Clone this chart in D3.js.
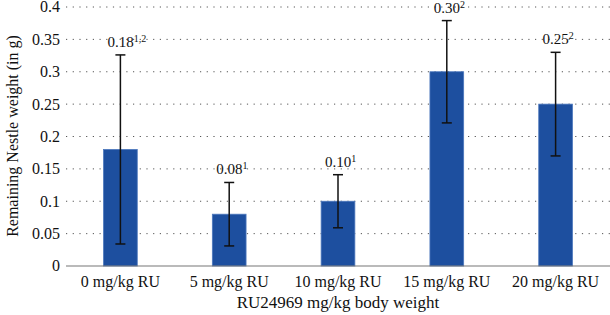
<!DOCTYPE html>
<html>
<head>
<meta charset="utf-8">
<script src="https://cdn.jsdelivr.net/npm/d3@7"></script>
</head>
<body style="margin:0">
<script>
var categories = ['0 mg/kg RU', '5 mg/kg RU', '10 mg/kg RU', '15 mg/kg RU', '20 mg/kg RU'];
var means = [0.18, 0.08, 0.10, 0.30, 0.25];
var errors = [0.146, 0.049, 0.041, 0.079, 0.08];
var valueLabels = ['0.18', '0.08', '0.10', '0.30', '0.25'];
var superscripts = ['1,2', '1', '1', '2', '2'];
var yTicks = [0, 0.05, 0.1, 0.15, 0.2, 0.25, 0.3, 0.35, 0.4];

var FONT = "'Times New Roman'";
var W = 610, H = 315;
var margin = {top: 7, right: 0, bottom: 49, left: 66};
var width = W - margin.left - margin.right,
    height = H - margin.top - margin.bottom;

var svg = d3.select('body').append('svg')
    .attr('width', W)
    .attr('height', H);

var g = svg.append('g')
    .attr('transform', 'translate(' + margin.left + ',' + margin.top + ')');

var x = d3.scaleBand().domain(categories).range([0, width]).paddingInner(0.69).paddingOuter(0.345);
var y = d3.scaleLinear().domain([0, 0.4]).range([height, 0]);

// dotted gridlines
g.selectAll('line.grid')
    .data(yTicks.filter(function (d) { return d > 0; }))
    .enter().append('line')
    .attr('class', 'grid')
    .attr('x1', 0).attr('x2', width)
    .attr('y1', function (d) { return y(d); })
    .attr('y2', function (d) { return y(d); })
    .attr('stroke', '#555')
    .attr('stroke-width', 1)
    .attr('stroke-dasharray', '1.2,5.5');

// y tick labels
g.selectAll('text.ytick')
    .data(yTicks)
    .enter().append('text')
    .attr('class', 'ytick')
    .attr('x', -6)
    .attr('y', function (d) { return y(d); })
    .attr('dy', '0.34em')
    .attr('text-anchor', 'end')
    .style('font-family', FONT)
    .style('font-size', '16px')
    .attr('fill', '#111')
    .text(function (d) { return String(+d.toFixed(2)); });

// bars
g.selectAll('rect.bar')
    .data(means)
    .enter().append('rect')
    .attr('class', 'bar')
    .attr('x', function (d, i) { return x(categories[i]); })
    .attr('width', x.bandwidth())
    .attr('y', function (d) { return y(d); })
    .attr('height', function (d) { return height - y(d); })
    .attr('fill', '#1d4f9f')
    .attr('stroke', '#4d78bd')
    .attr('stroke-width', 0.8);

// error bars
var eb = g.selectAll('g.err')
    .data(means)
    .enter().append('g')
    .attr('class', 'err')
    .attr('transform', function (d, i) { return 'translate(' + (x(categories[i]) + x.bandwidth() / 2) + ',0)'; });

eb.append('line')
    .attr('y1', function (d, i) { return y(d + errors[i]); })
    .attr('y2', function (d, i) { return y(d - errors[i]); })
    .attr('stroke', '#111').attr('stroke-width', 1.5);
eb.append('line')
    .attr('x1', -5).attr('x2', 5)
    .attr('y1', function (d, i) { return y(d + errors[i]); })
    .attr('y2', function (d, i) { return y(d + errors[i]); })
    .attr('stroke', '#111').attr('stroke-width', 1.5);
eb.append('line')
    .attr('x1', -5).attr('x2', 5)
    .attr('y1', function (d, i) { return y(d - errors[i]); })
    .attr('y2', function (d, i) { return y(d - errors[i]); })
    .attr('stroke', '#111').attr('stroke-width', 1.5);

// value labels with superscripts
eb.append('text')
    .attr('x', -13)
    .attr('y', function (d, i) { return y(d + errors[i]) - 8; })
    .attr('fill', '#111')
    .style('font-family', FONT)
    .style('font-size', '15px')
    .text(function (d, i) { return valueLabels[i]; })
    .append('tspan')
    .attr('dy', -5)
    .style('font-size', '10px')
    .text(function (d, i) { return superscripts[i]; });

// x axis line
g.append('line')
    .attr('x1', 0).attr('x2', width)
    .attr('y1', height).attr('y2', height)
    .attr('stroke', '#777').attr('stroke-width', 1.2);

// category labels
g.selectAll('text.xtick')
    .data(categories)
    .enter().append('text')
    .attr('class', 'xtick')
    .attr('x', function (d) { return x(d) + x.bandwidth() / 2; })
    .attr('y', height + 21)
    .attr('text-anchor', 'middle')
    .style('font-family', FONT)
    .style('font-size', '16px')
    .attr('fill', '#111')
    .text(function (d) { return d; });

// axis titles
svg.append('text')
    .attr('x', margin.left + width / 2)
    .attr('y', 308)
    .attr('text-anchor', 'middle')
    .attr('fill', '#111')
    .style('font-family', FONT)
    .style('font-size', '17px')
    .text('RU24969 mg/kg body weight');

svg.append('text')
    .attr('transform', 'translate(18,136) rotate(-90)')
    .attr('text-anchor', 'middle')
    .attr('fill', '#111')
    .style('font-family', FONT)
    .style('font-size', '16px')
    .text('Remaining Nestle weight (in g)');
</script>
</body>
</html>
